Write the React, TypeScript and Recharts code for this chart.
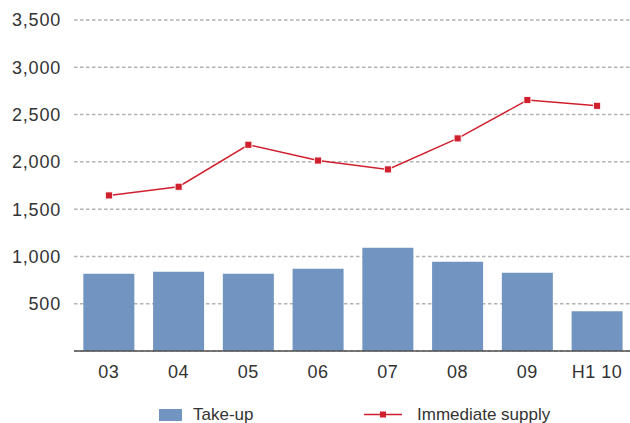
import React from 'react';
import { ComposedChart, Bar, Line, XAxis, YAxis, CartesianGrid, Legend } from 'recharts';

// Office market: annual take-up (bars) and immediate supply (line)
const periods = ['03', '04', '05', '06', '07', '08', '09', 'H1 10'];
const takeUp = [817, 838, 817, 871, 1092, 944, 828, 419];
const immediateSupply = [1645, 1737, 2181, 2014, 1920, 2248, 2653, 2593];
const yTicks = [500, 1000, 1500, 2000, 2500, 3000, 3500];

const BAR_COLOR = '#7194c0';
const LINE_COLOR = '#d0202e';
const TEXT_COLOR = '#333333';
const FONT = '"Liberation Sans", Arial, sans-serif';

const data = periods.map((period, i) => ({
  period,
  takeUp: takeUp[i],
  supply: immediateSupply[i],
}));

const formatThousands = (v: number) => v.toLocaleString('en-US');

const SquareDot = (props: any) => {
  const { cx, cy, index } = props;
  if (cx == null || cy == null) return <g key={`dot-${index}`} />;
  return (
    <rect
      key={`dot-${index}`}
      x={cx - 3.5}
      y={cy - 3.5}
      width={7}
      height={7}
      fill={LINE_COLOR}
      stroke="#ffffff"
      strokeWidth={0.8}
    />
  );
};

const LegendContent = () => (
  <svg width={632} height={42} style={{ display: 'block' }}>
    <rect x={159} y={28} width={23} height={12} fill={BAR_COLOR} />
    <text x={193} y={38.5} fontFamily={FONT} fontSize={17} fill={TEXT_COLOR}>
      Take-up
    </text>
    <line x1={364} y1={33.5} x2={402} y2={33.5} stroke={LINE_COLOR} strokeWidth={1.5} />
    <rect x={380} y={30.5} width={6} height={6} fill={LINE_COLOR} />
    <text x={417} y={38.5} fontFamily={FONT} fontSize={17} fill={TEXT_COLOR}>
      Immediate supply
    </text>
  </svg>
);

export default function App() {
  return (
    <div
      style={{
        position: 'absolute',
        left: 0,
        top: 0,
        width: 630,
        height: 423,
        overflow: 'hidden',
        background: '#ffffff',
      }}
    >
      <ComposedChart
        width={632}
        height={423}
        data={data}
        margin={{ top: 20, right: 0, bottom: 0, left: 0 }}
        barCategoryGap="13.4%"
      >
        <CartesianGrid
          vertical={false}
          stroke="#b3b3b3"
          strokeDasharray="3.5 2.5"
          strokeWidth={1.5}
        />
        <XAxis
          dataKey="period"
          height={30}
          axisLine={{ stroke: '#505050', strokeWidth: 1.5 }}
          tickLine={false}
          tickSize={0}
          tickMargin={14}
          interval={0}
          tick={{ fill: TEXT_COLOR, fontSize: 18, fontFamily: FONT, letterSpacing: 0.5 }}
        />
        <YAxis
          width={74}
          domain={[0, 3500]}
          ticks={yTicks}
          interval={0}
          axisLine={false}
          tickLine={false}
          tickSize={0}
          tickMargin={13}
          tickFormatter={formatThousands}
          tick={{ fill: TEXT_COLOR, fontSize: 18, fontFamily: FONT, letterSpacing: 0.8 }}
        />
        <Legend verticalAlign="bottom" height={42} content={<LegendContent />} />
        <Bar dataKey="takeUp" name="Take-up" fill={BAR_COLOR} isAnimationActive={false} />
        <Line
          type="linear"
          dataKey="supply"
          name="Immediate supply"
          stroke={LINE_COLOR}
          strokeWidth={1.5}
          dot={SquareDot}
          activeDot={false}
          isAnimationActive={false}
        />
      </ComposedChart>
    </div>
  );
}
